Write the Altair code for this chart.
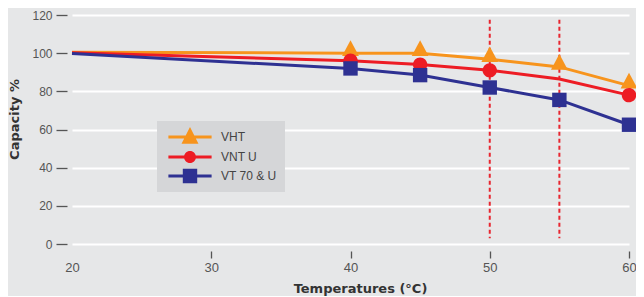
import altair as alt
import pandas as pd

# ---- data ----
series = ["VHT", "VNT U", "VT 70 & U"]
colors = ["#F7941D", "#ED1C24", "#2E3192"]
line_temps = [20, 40, 45, 50, 55, 60]
vht = [100.5, 100, 100, 96.8, 92.8, 83]
vnt_u = [100.2, 96, 94, 91, 86.5, 78]
vt70_u = [99.8, 92, 88.5, 82, 75.5, 62.5]
marker_temps = {
    "VHT": [40, 45, 50, 55, 60],
    "VNT U": [40, 45, 50, 60],
    "VT 70 & U": [40, 45, 50, 55, 60],
}
limit_temps = [50, 55]
x_ticks = [20, 30, 40, 50, 60]
y_ticks = [0, 20, 40, 60, 80, 100, 120]

rows = []
for name, vals in zip(series, [vht, vnt_u, vt70_u]):
    for t, v in zip(line_temps, vals):
        rows.append({"series": name, "temp": t, "cap": v,
                     "marker": t in marker_temps[name]})
df = pd.DataFrame(rows)
df_lim = pd.DataFrame({"temp": limit_temps})

# marker shapes (custom paths, unit = sqrt(size)/2)
tri = "M0,-1.6L1.05,0.35L-1.05,0.35Z"
circ = "M-0.9,0A0.9,0.9 0 1,1 0.9,0A0.9,0.9 0 1,1 -0.9,0Z"
sq = "M-0.9,-0.9L0.9,-0.9L0.9,0.9L-0.9,0.9Z"
shapes = [tri, circ, sq]
bar = "M-2.7,-0.19L2.7,-0.19L2.7,0.19L-2.7,0.19Z"
leg_tri = bar + "M0,-1.25L1.06,0.83L-1.06,0.83Z"
leg_circ = bar + "M-0.75,0A0.75,0.75 0 1,1 0.75,0A0.75,0.75 0 1,1 -0.75,0Z"
leg_sq = bar + "M-0.9,-0.9L0.9,-0.9L0.9,0.9L-0.9,0.9Z"
legend_expr = ("datum.value == 'VHT' ? '%s' : datum.value == 'VNT U' ? '%s' : '%s'"
               % (leg_tri, leg_circ, leg_sq))

label_font = "Liberation Sans"
title_font = "DejaVu Sans"

x_scale = alt.Scale(domain=[20, 60], nice=False, zero=False)
y_scale = alt.Scale(domain=[0, 120], nice=False)

x_axis = alt.Axis(
    values=x_ticks, title="Temperatures (°C)", grid=False, domain=False,
    offset=7, tickSize=7, tickWidth=1.3, tickColor="#555",
    tickOpacity=alt.condition("datum.value == 20", alt.value(0), alt.value(1)),
    labelFlush=False, labelFont=label_font, labelFontSize=13,
    labelColor="#555", labelPadding=3,
    titleFont=title_font, titleFontSize=13, titleFontWeight="bold",
    titleColor="#333", titlePadding=8, titleX=288,
)
y_axis = alt.Axis(
    values=y_ticks, title="Capacity %", grid=True, gridColor="#ffffff",
    gridWidth=2, domain=False, offset=5, tickSize=11, tickWidth=1.3,
    tickColor="#555", labelFont=label_font, labelFontSize=12,
    labelColor="#555", labelPadding=4, labelOverlap=False,
    titleFont=title_font, titleFontSize=13, titleFontWeight="bold",
    titleColor="#333", titlePadding=10, titleY=104,
)

def xy():
    return dict(x=alt.X("temp:Q", scale=x_scale, axis=x_axis),
                y=alt.Y("cap:Q", scale=y_scale, axis=y_axis))

rules = alt.Chart(df_lim).mark_rule(
    color="#E8262F", strokeWidth=2, strokeDash=[4, 3]
).encode(
    x=alt.X("temp:Q", scale=x_scale, axis=x_axis),
    y=alt.YDatum(117.5, scale=y_scale, axis=y_axis),
    y2=alt.datum(3),
)

line_layers = []
point_layers = []
for name, col, shp in zip(series, colors, shapes):
    line_layers.append(
        alt.Chart(df).transform_filter(alt.datum.series == name)
        .mark_line(strokeWidth=3, color=col).encode(**xy())
    )
    point_layers.append(
        alt.Chart(df).transform_filter(alt.datum.series == name)
        .transform_filter("datum.marker")
        .mark_point(filled=True, opacity=1, size=256, strokeWidth=0,
                    color=col, shape=shp).encode(**xy())
    )

# legend only (no rows drawn)
legend_layer = alt.Chart(df).transform_filter("false").mark_point(
    filled=True, opacity=1
).encode(
    color=alt.Color(
        "series:N", scale=alt.Scale(domain=series, range=colors), sort=series,
        title=None,
        legend=alt.Legend(
            orient="none", legendX=85, legendY=106, fillColor="#D5D6D8",
            padding=8, symbolType=alt.ExprRef(legend_expr), symbolSize=256,
            symbolStrokeWidth=0, symbolOpacity=1, symbolOffset=17,
            labelOffset=23, rowPadding=5, labelFont=label_font,
            labelFontSize=12, labelColor="#444",
        ),
    ),
)

chart = alt.layer(rules, *line_layers, *point_layers, legend_layer).properties(
    width=557, height=229,
    background="#E6E7E8",
    padding={"left": 64, "top": 7, "right": 7, "bottom": 52},
    autosize=alt.AutoSizeParams(type="none"),
).configure_view(stroke=None)

chart.save("out.html", embed_options={"renderer": "svg", "actions": False})
